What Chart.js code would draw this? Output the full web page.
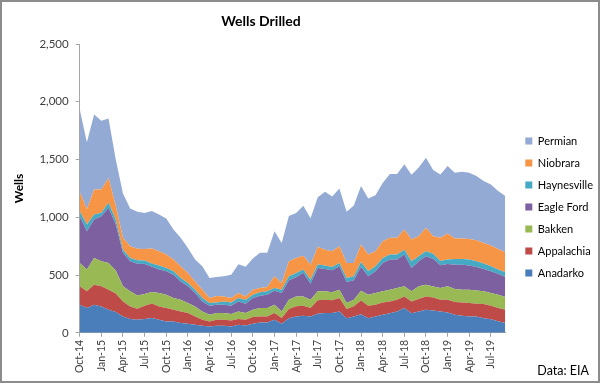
<!DOCTYPE html>
<html>
<head>
<meta charset="utf-8">
<script src="https://cdn.jsdelivr.net/npm/chart.js@4.4.1/dist/chart.umd.min.js"></script>
<style>
  html, body { margin: 0; padding: 0; background: #fff; }
  #wrap { position: relative; width: 600px; height: 383px; overflow: hidden; }
  #border { position: absolute; left: 0; top: 0; width: 600px; height: 383px; box-sizing: border-box; border: 2px solid #8c8c8c; pointer-events: none; }
  #title { position: absolute; left: 0; top: 12px; width: 522px; text-align: center; font: bold 14px Lato, sans-serif; color: #000; }
  #source { position: absolute; right: 11px; bottom: 5px; font: 12.5px Lato, sans-serif; color: #000; }
  canvas { position: absolute; left: 0; top: 0; }
</style>
</head>
<body>
<div id="wrap">
  <canvas id="wells-chart" width="600" height="383"></canvas>
  <div id="title">Wells Drilled</div>
  <div id="source">Data: EIA</div>
  <div id="border"></div>
</div>
<script>
'use strict';

// Monthly, Oct-14 through Sep-19
const months = [
  'Oct-14', 'Nov-14', 'Dec-14', 'Jan-15', 'Feb-15', 'Mar-15', 'Apr-15', 'May-15', 'Jun-15', 'Jul-15', 'Aug-15', 'Sep-15',
  'Oct-15', 'Nov-15', 'Dec-15', 'Jan-16', 'Feb-16', 'Mar-16', 'Apr-16', 'May-16', 'Jun-16', 'Jul-16', 'Aug-16', 'Sep-16',
  'Oct-16', 'Nov-16', 'Dec-16', 'Jan-17', 'Feb-17', 'Mar-17', 'Apr-17', 'May-17', 'Jun-17', 'Jul-17', 'Aug-17', 'Sep-17',
  'Oct-17', 'Nov-17', 'Dec-17', 'Jan-18', 'Feb-18', 'Mar-18', 'Apr-18', 'May-18', 'Jun-18', 'Jul-18', 'Aug-18', 'Sep-18',
  'Oct-18', 'Nov-18', 'Dec-18', 'Jan-19', 'Feb-19', 'Mar-19', 'Apr-19', 'May-19', 'Jun-19', 'Jul-19', 'Aug-19', 'Sep-19'
];

const anadarko = [243, 214, 243, 228, 200, 180, 142, 119, 113, 119, 128, 113, 98, 98, 84, 79, 69, 61, 55, 61, 61, 55, 69, 64, 78, 90, 90, 113, 78, 127, 142, 148, 142, 165, 171, 171, 185, 127, 142, 160, 127, 141, 156, 170, 185, 214, 170, 185, 199, 194, 185, 176, 156, 147, 141, 141, 127, 118, 100, 85];
const appalachia = [159, 145, 174, 174, 173, 160, 130, 109, 95, 115, 125, 115, 116, 102, 101, 92, 73, 52, 43, 52, 52, 52, 50, 49, 58, 52, 52, 58, 50, 78, 87, 86, 72, 116, 115, 110, 116, 78, 87, 120, 108, 102, 107, 102, 102, 101, 102, 107, 116, 111, 102, 111, 110, 116, 117, 111, 122, 117, 114, 115];
const bakken = [203, 188, 231, 217, 232, 200, 130, 131, 115, 102, 101, 117, 116, 101, 101, 87, 86, 72, 58, 58, 58, 55, 66, 58, 64, 72, 72, 72, 57, 81, 86, 81, 72, 78, 73, 69, 72, 53, 57, 85, 95, 102, 96, 101, 101, 87, 87, 110, 102, 95, 101, 115, 113, 110, 115, 115, 110, 110, 116, 110];
const eagleFord = [405, 333, 333, 391, 477, 400, 290, 260, 275, 260, 217, 202, 202, 202, 159, 144, 117, 87, 78, 72, 72, 72, 87, 81, 101, 107, 116, 122, 160, 168, 165, 205, 139, 202, 194, 191, 203, 182, 168, 207, 159, 188, 246, 261, 246, 275, 202, 217, 246, 240, 197, 193, 211, 217, 209, 203, 194, 188, 182, 173];
const haynesville = [43, 57, 43, 29, 44, 40, 28, 29, 29, 29, 29, 35, 29, 29, 30, 29, 28, 29, 24, 20, 29, 29, 29, 31, 29, 29, 29, 23, 28, 35, 38, 27, 35, 30, 29, 29, 29, 35, 35, 40, 44, 43, 43, 43, 43, 43, 58, 44, 43, 45, 37, 39, 49, 49, 52, 49, 46, 43, 35, 41];
const niobrara = [167, 133, 217, 202, 214, 120, 102, 102, 101, 101, 130, 124, 116, 102, 101, 87, 72, 72, 43, 55, 43, 38, 44, 32, 43, 38, 38, 101, 58, 130, 130, 121, 130, 153, 138, 136, 144, 130, 116, 152, 144, 130, 145, 145, 145, 174, 188, 173, 203, 151, 200, 225, 177, 177, 179, 182, 179, 179, 179, 173];
const permian = [716, 580, 649, 594, 515, 400, 383, 325, 320, 310, 325, 319, 313, 261, 246, 217, 189, 203, 174, 165, 174, 202, 248, 257, 271, 304, 295, 391, 347, 393, 388, 432, 401, 430, 502, 474, 501, 443, 497, 506, 485, 484, 503, 553, 553, 564, 561, 594, 607, 574, 549, 585, 570, 578, 573, 556, 535, 529, 501, 487];

const yTicks = [0, 500, 1000, 1500, 2000, 2500];

function area(label, data, color, fill) {
  return {
    label: label,
    data: data,
    backgroundColor: color,
    borderColor: color,
    borderWidth: 0,
    pointRadius: 0,
    fill: fill,
    tension: 0
  };
}

const axisGray = '#a6a6a6';
const textGray = '#404040';

// leave a wider gap between the plot and the legend, like the Excel original
const legendGap = {
  id: 'legendGap',
  afterLayout(chart) {
    chart.legend.left += 9;
    chart.legend.right += 9;
    chart.legend.top -= 3;
    chart.legend.bottom -= 3;
  }
};

const ctx = document.getElementById('wells-chart').getContext('2d');
const chart = new Chart(ctx, {
  type: 'line',
  data: {
    labels: months,
    datasets: [
      area('Anadarko', anadarko, '#4a7ebb', 'origin'),
      area('Appalachia', appalachia, '#be4b48', '-1'),
      area('Bakken', bakken, '#98b954', '-1'),
      area('Eagle Ford', eagleFord, '#7d60a0', '-1'),
      area('Haynesville', haynesville, '#46aac5', '-1'),
      area('Niobrara', niobrara, '#f69546', '-1'),
      area('Permian', permian, '#93aad4', '-1')
    ]
  },
  plugins: [legendGap],
  options: {
    responsive: false,
    animation: false,
    layout: { padding: { left: 8, right: 6, top: 44, bottom: 7 } },
    plugins: {
      tooltip: { enabled: false },
      legend: {
        position: 'right',
        reverse: true,
        labels: {
          boxWidth: 7,
          boxHeight: 7,
          padding: 11,
          color: '#000',
          font: { family: 'Lato', size: 11 }
        }
      }
    },
    scales: {
      x: {
        offset: false,
        grid: {
          display: true,
          drawOnChartArea: false,
          tickLength: 4,
          tickColor: function(c) { return c.index % 3 === 0 ? axisGray : 'rgba(0,0,0,0)'; }
        },
        border: { color: axisGray },
        ticks: {
          autoSkip: false,
          minRotation: 90,
          maxRotation: 90,
          padding: 3,
          color: textGray,
          font: { family: 'Lato', size: 10.5 },
          callback: function(value, index) { return index % 3 === 0 ? months[index] : ''; }
        }
      },
      y: {
        stacked: true,
        min: yTicks[0],
        max: yTicks[yTicks.length - 1],
        afterBuildTicks: function(axis) { axis.ticks = yTicks.map(v => ({ value: v })); },
        grid: { display: true, drawOnChartArea: false, tickLength: 4, tickColor: axisGray },
        border: { color: axisGray },
        ticks: {
          padding: 7,
          color: textGray,
          font: { family: 'Lato', size: 11.5 },
          callback: function(value) { return value.toLocaleString('en-US'); }
        },
        title: {
          display: true,
          text: 'Wells',
          color: '#000',
          font: { family: 'Lato', size: 12, weight: 'bold' },
          padding: { bottom: 6 }
        }
      }
    }
  }
});
</script>
</body>
</html>
